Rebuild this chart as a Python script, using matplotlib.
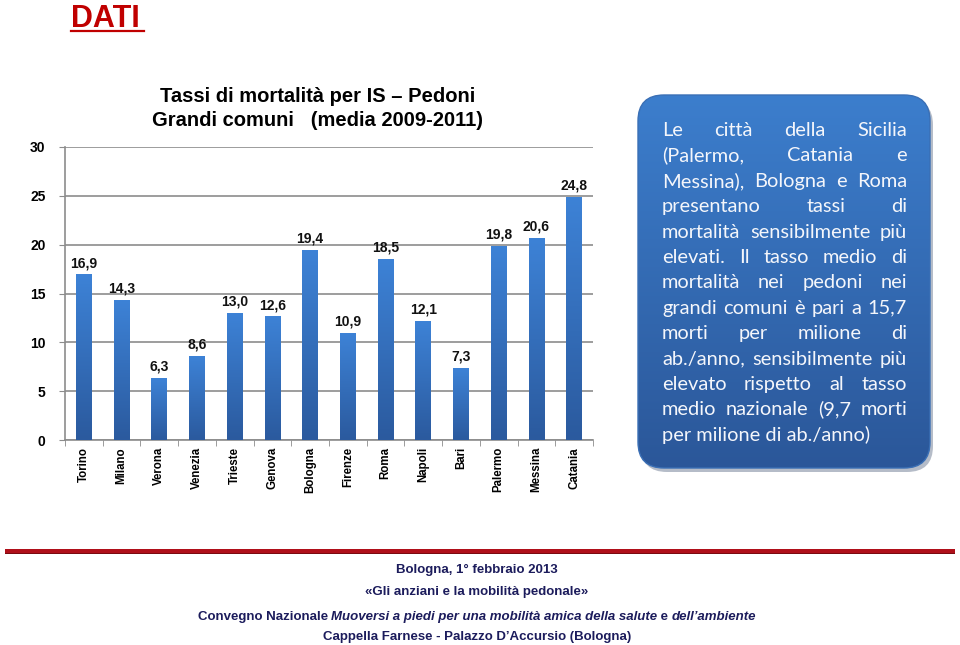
import numpy as np
import matplotlib
matplotlib.use("Agg")
import matplotlib.pyplot as plt
from matplotlib.patches import FancyBboxPatch, Rectangle
from matplotlib.colors import LinearSegmentedColormap

cities = ['Torino', 'Milano', 'Verona', 'Venezia', 'Trieste', 'Genova', 'Bologna',
          'Firenze', 'Roma', 'Napoli', 'Bari', 'Palermo', 'Messina', 'Catania']
rates = [16.9, 14.3, 6.3, 8.6, 13.0, 12.6, 19.4, 10.9, 18.5, 12.1, 7.3, 19.8, 20.6, 24.8]
yticks = [0, 5, 10, 15, 20, 25, 30]

box_lines = [
    "Le città della Sicilia",
    "(Palermo, Catania e",
    "Messina), Bologna e Roma",
    "presentano tassi di",
    "mortalità sensibilmente più",
    "elevati. Il tasso medio di",
    "mortalità nei pedoni nei",
    "grandi comuni è pari a 15,7",
    "morti per milione di",
    "ab./anno, sensibilmente più",
    "elevato rispetto al tasso",
    "medio nazionale (9,7 morti",
    "per milione di ab./anno)",
]

footer = [
    "Bologna, 1° febbraio 2013",
    "«Gli anziani e la mobilità pedonale»",
    "Cappella Farnese - Palazzo D\u2019Accursio (Bologna)",
]
# (text, italic) pieces of the third footer line
convegno = [("Convegno Nazionale ", False),
            ("Muoversi a piedi per una mobilità amica della salute", True),
            (" e ", False),
            ("dell\u2019ambiente", True)]

W, H = 960, 645
fig = plt.figure(figsize=(9.6, 6.45), dpi=100)
bold = dict(family=['Liberation Sans', 'DejaVu Sans'], fontweight='bold')

# title DATI
fig.text(71 / W, 1 - 27 / H, "DATI", color='#c00000', fontsize=22, va='baseline', ha='left', **bold)
fig.add_artist(plt.Line2D([71 / W, 144 / W], [1 - 31 / H, 1 - 31 / H], color='#c00000', lw=1.6))

# chart
ax = fig.add_axes([65 / W, 1 - 440 / H, (593 - 65) / W, (440 - 147) / H])
x = np.arange(len(cities))
bars = ax.bar(x, rates, width=0.42, color='#3470c0', zorder=3)

grad = LinearSegmentedColormap.from_list('g', ['#2b5a9e', '#3d82d6'])
for b in bars:
    x0, y0 = b.get_x(), b.get_y()
    w, h = b.get_width(), b.get_height()
    ax.imshow(np.linspace(0, 1, 100).reshape(-1, 1), cmap=grad, origin='lower',
              extent=[x0, x0 + w, y0, y0 + h], aspect='auto', zorder=4)
    b.set_visible(False)
    ax.text(x0 + w / 2, y0 + h + 0.5, f"{h:.1f}".replace('.', ','), ha='center', va='bottom',
            fontsize=10, color='#111111', zorder=5, **bold)
ax.set_aspect('auto')
ax.set_xlim(-0.5, len(cities) - 0.5)
ax.set_ylim(0, 30)

ax.set_yticks(yticks)
ax.set_yticklabels([str(t) for t in yticks], fontsize=10, **bold)
ax.yaxis.grid(True, color='#8c8c8c', lw=1.2, zorder=0)
ax.set_xticks(x)
ax.set_xticklabels(cities, rotation=90, fontsize=8.3, va='top', **bold)
ax.set_xticks(np.arange(len(cities) + 1) - 0.5, minor=True)
ax.tick_params(axis='x', which='major', length=0, pad=5)
ax.tick_params(axis='x', which='minor', length=4, color='#8c8c8c', direction='out')
ax.tick_params(axis='y', length=4, color='#8c8c8c', pad=10)
for s in ['top', 'right']:
    ax.spines[s].set_visible(False)
for s in ['left', 'bottom']:
    ax.spines[s].set_color('#8c8c8c')
    ax.spines[s].set_linewidth(1.2)

fig.text(318 / W, 1 - 96 / H, "Tassi di mortalità per IS \u2013 Pedoni", ha='center', va='center',
         fontsize=14.5, **bold)
fig.text(318 / W, 1 - 121 / H, "Grandi comuni   (media 2009-2011)", ha='center', va='center',
         fontsize=14.5, **bold)

# text box with gradient, drawn in pixel coordinates
bx0, by0, bx1, by1 = 638, 95, 930, 468
bax = fig.add_axes([0, 0, 1, 1], zorder=-1)
bax.set_xlim(0, W)
bax.set_ylim(0, H)
bax.axis('off')
sh = FancyBboxPatch((bx0 + 3, H - by1 - 4), bx1 - bx0, by1 - by0,
                    boxstyle="round,pad=0,rounding_size=26", fc='#b5bcc8', ec='none', zorder=1)
box = FancyBboxPatch((bx0, H - by1), bx1 - bx0, by1 - by0,
                     boxstyle="round,pad=0,rounding_size=26", fc='none', ec='#3a6fb5', lw=1,
                     zorder=3)
bax.add_patch(sh)
bax.add_patch(box)
boxgrad = LinearSegmentedColormap.from_list('b', ['#2b5799', '#3c7ecd'])
im = bax.imshow(np.linspace(0, 1, 200).reshape(-1, 1), cmap=boxgrad, origin='lower',
                extent=[bx0, bx1, H - by1, H - by0], aspect='auto', zorder=2)
im.set_clip_path(box)
bax.set_xlim(0, W)
bax.set_ylim(0, H)

fig.canvas.draw()
renderer = fig.canvas.get_renderer()

# justified text inside box
tl, tr = 662, 907
font = dict(family=['Lato', 'DejaVu Sans'], fontsize=14.4, color='#f4f6fb', zorder=4)
for i, line in enumerate(box_lines):
    yy = H - (136 + i * 25.4)
    words = line.split(' ')
    if i == len(box_lines) - 1:
        bax.text(tl, yy, line, va='baseline', ha='left', **font)
        continue
    arts = [bax.text(0, yy, w_, va='baseline', ha='left', **font) for w_ in words]
    widths = [a.get_window_extent(renderer).width for a in arts]
    gap = (tr - tl - sum(widths)) / max(len(words) - 1, 1)
    pos = tl
    for a, wd in zip(arts, widths):
        a.set_x(pos)
        pos += wd + gap

# footer
bax.add_patch(Rectangle((5, H - 553), 950, 4, fc='#b0101a', ec='none'))
bax.add_patch(Rectangle((5, H - 554), 950, 1, fc='#7a0a10', ec='none'))
navy = '#1c1c5c'
ff = dict(family=['Liberation Sans', 'DejaVu Sans'], fontweight='bold', color=navy,
          fontsize=9.5, va='baseline')
bax.text(477, H - 573, footer[0], ha='center', **ff)
bax.text(477, H - 595, footer[1], ha='center', **ff)
bax.text(477, H - 640, footer[2], ha='center', **ff)

parts = [bax.text(0, H - 620, t, ha='left', style='italic' if it else 'normal', **ff)
         for t, it in convegno]
pw = [p.get_window_extent(renderer).width for p in parts]
pos = 477 - sum(pw) / 2
for p, wd in zip(parts, pw):
    p.set_x(pos)
    pos += wd

fig.savefig("out.png", dpi=100)
